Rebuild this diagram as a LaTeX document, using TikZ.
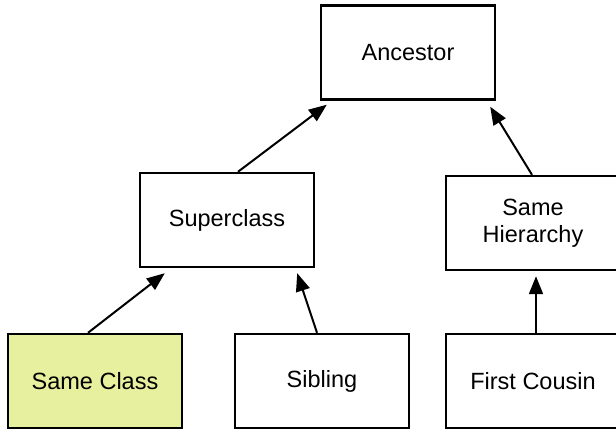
\documentclass[tikz,border=0pt]{standalone}
\usepackage{fontspec}
\setmainfont{Liberation Sans}
\usetikzlibrary{arrows.meta}
\definecolor{hl}{RGB}{230,240,158}
\begin{document}
\begin{tikzpicture}[x=1pt,y=-1pt,
 box/.style={draw=black, line width=2.4pt, minimum width=174pt, minimum height=94pt, inner sep=0pt, align=center, font=\fontsize{23.5}{27}\selectfont, fill=white},
 arr/.style={line width=2pt, -{Triangle[length=18pt,width=14pt]}}]
\useasboundingbox (0,0) rectangle (616,429);
\clip (0,0) rectangle (616,429);
\node[box] (anc) at (408,52.5) {Ancestor};
\node[box] (sup) at (227,220) {Superclass};
\node[box] (sh) at (533,223) {Same\\Hierarchy};
\node[box, fill=hl] (sc) at (95,381) {Same Class};
\node[box] (sib) at (322,381) {Sibling};
\node[box] (fc) at (533,381) {First Cousin};
\draw[arr] ([xshift=11pt]sup.north) -- ([xshift=7pt,yshift=-4pt]anc.south west);
\draw[arr] ([xshift=-1pt]sh.north) -- ([xshift=-6pt,yshift=-6pt]anc.south east);
\draw[arr] ([xshift=-7pt]sc.north) -- ([xshift=26pt,yshift=-5pt]sup.south west);
\draw[arr] ([xshift=-5pt]sib.north) -- ([xshift=-18pt,yshift=-5pt]sup.south east);
\draw[arr] ([xshift=3pt]fc.north) -- ([xshift=3pt,yshift=-5pt]sh.south);
\end{tikzpicture}
\end{document}
